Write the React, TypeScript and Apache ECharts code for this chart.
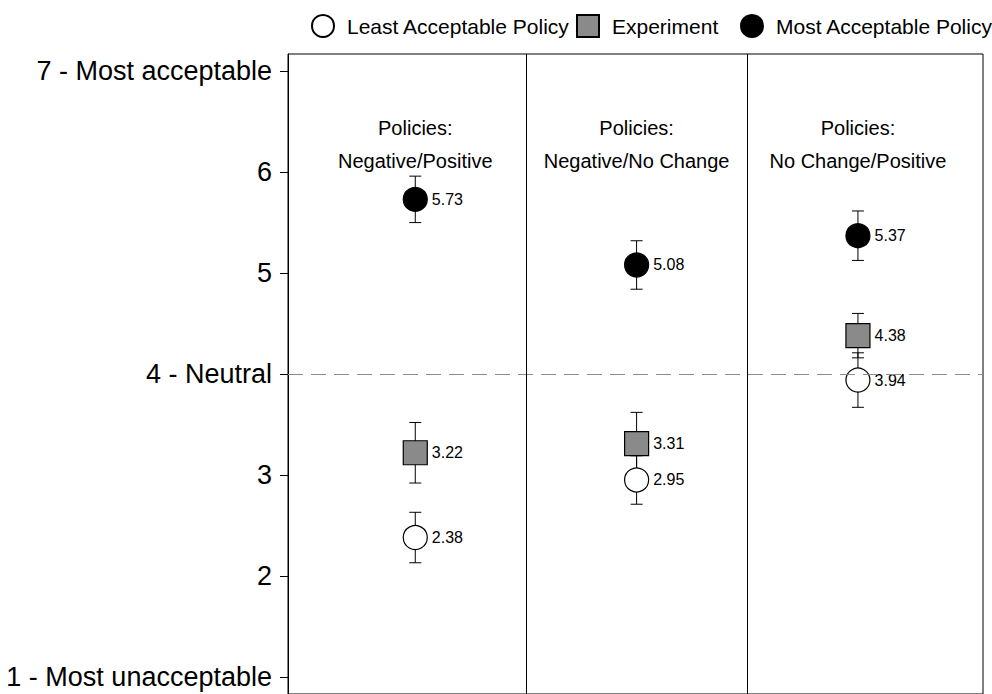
import React, { useEffect, useRef } from "react";
import * as echarts from "echarts";

// ---- data ----
const panelTitles = ["Policies:\nNegative/Positive", "Policies:\nNegative/No Change", "Policies:\nNo Change/Positive"];
const panelX = [1, 2, 3];
const seriesNames = ["Least Acceptable Policy", "Experiment", "Most Acceptable Policy"];
const leastMeans = [2.38, 2.95, 3.94];
const leastErr = [0.25, 0.24, 0.27];
const expMeans = [3.22, 3.31, 4.38];
const expErr = [0.3, 0.31, 0.22];
const mostMeans = [5.73, 5.08, 5.37];
const mostErr = [0.23, 0.24, 0.245];
const yTickValues = [1, 2, 3, 4, 5, 6, 7];
const yTickLabels = ["1 - Most unacceptable", "2", "3", "4 - Neutral", "5", "6", "7 - Most acceptable"];
const neutralValue = 4;
const dividerValues = [1.5, 2.5];
const titleY = 6.27;

const FONT = "Liberation Sans, Arial, sans-serif";
const legendLefts = [306, 571, 735];

export default function App() {
  const ref = useRef<HTMLDivElement>(null);
  useEffect(() => {
    if (!ref.current) return;
    const chart = echarts.init(ref.current, undefined, { renderer: "svg" });

    const errData = (means: number[], errs: number[]) =>
      means.map((m, i) => [panelX[i], m - errs[i], m + errs[i]]);
    const allErr = [
      ...errData(leastMeans, leastErr),
      ...errData(expMeans, expErr),
      ...errData(mostMeans, mostErr),
    ];

    const pointData = (means: number[]) => means.map((m, i) => [panelX[i], m]);
    const valueLabel = {
      show: true,
      position: "right" as const,
      distance: 4,
      fontSize: 16,
      color: "#000",
      opacity: 1,
      fontFamily: FONT,
      formatter: (p: any) => p.value[1].toFixed(2),
    };

    chart.setOption({
      animation: false,
      backgroundColor: "#fff",
      textStyle: { fontFamily: FONT },
      legend: seriesNames.map((n, i) => ({
        data: [n],
        left: legendLefts[i],
        top: 9,
        itemWidth: 22,
        itemHeight: 22,
        selectedMode: false,
        textStyle: { fontSize: 21, color: "#000", fontFamily: FONT, padding: [0, 0, 0, 8] },
      })),
      grid: {
        left: 288,
        right: 9,
        top: 54,
        bottom: -1,
        show: true,
        borderColor: "#000",
        borderWidth: 1,
        backgroundColor: "transparent",
      },
      xAxis: {
        type: "value",
        min: 0.425,
        max: 3.565,
        show: false,
      },
      yAxis: {
        type: "value",
        min: 0.83,
        max: 7.17,
        axisLine: { show: true, lineStyle: { color: "#000", width: 1 } },
        axisTick: { show: true, inside: false, length: 8, lineStyle: { color: "#000" }, customValues: yTickValues },
        axisLabel: {
          show: true,
          fontSize: 27,
          color: "#000",
          fontFamily: FONT,
          margin: 16,
          customValues: yTickValues,
          formatter: (v: number) => {
            const idx = yTickValues.indexOf(Math.round(v));
            return idx >= 0 ? yTickLabels[idx] : "";
          },
        },
        splitLine: { show: false },
      },
      series: [
        {
          type: "custom",
          name: "errors",
          z: 2,
          data: allErr,
          encode: { x: 0, y: [1, 2] },
          renderItem: (params: any, api: any) => {
            const x = api.value(0);
            const lo = api.value(1);
            const hi = api.value(2);
            const top = api.coord([x, hi]);
            const bot = api.coord([x, lo]);
            const hw = 6;
            const st = { stroke: "#000", lineWidth: 1 };
            return {
              type: "group",
              children: [
                { type: "line", shape: { x1: top[0], y1: top[1], x2: bot[0], y2: bot[1] }, style: st },
                { type: "line", shape: { x1: top[0] - hw, y1: top[1], x2: top[0] + hw, y2: top[1] }, style: st },
                { type: "line", shape: { x1: bot[0] - hw, y1: bot[1], x2: bot[0] + hw, y2: bot[1] }, style: st },
              ],
            };
          },
          markLine: {
            silent: true,
            symbol: "none",
            label: { show: false },
            data: [
              { yAxis: neutralValue, lineStyle: { color: "#8c8c8c", type: [15, 8], width: 1 } },
              ...dividerValues.map((v) => ({ xAxis: v, lineStyle: { color: "#000", type: "solid", width: 1 } })),
            ],
          },
        },
        {
          type: "scatter",
          name: seriesNames[0],
          z: 3,
          symbol: "circle",
          symbolSize: 24,
          itemStyle: { color: "#fff", borderColor: "#000", borderWidth: 1.2, opacity: 1 },
          label: valueLabel,
          data: pointData(leastMeans),
        },
        {
          type: "scatter",
          name: seriesNames[1],
          z: 3,
          symbol: "rect",
          symbolSize: 24,
          itemStyle: { color: "#8a8a8a", borderColor: "#000", borderWidth: 1.2, opacity: 1 },
          label: valueLabel,
          data: pointData(expMeans),
        },
        {
          type: "scatter",
          name: seriesNames[2],
          z: 3,
          symbol: "circle",
          symbolSize: 24,
          itemStyle: { color: "#000", borderColor: "#000", borderWidth: 1.2, opacity: 1 },
          label: valueLabel,
          data: pointData(mostMeans),
        },
        {
          type: "scatter",
          name: "titles",
          z: 3,
          symbolSize: 0,
          silent: true,
          itemStyle: { color: "rgba(0,0,0,0)", opacity: 1 },
          label: {
            show: true,
            position: "inside",
            fontSize: 20,
            lineHeight: 33,
            color: "#000",
            opacity: 1,
            fontFamily: FONT,
            align: "center",
            formatter: (p: any) => panelTitles[p.dataIndex],
          },
          data: panelX.map((x) => [x, titleY]),
        },
      ],
    });
    return () => chart.dispose();
  }, []);
  return (
    <div
      ref={ref}
      style={{ position: "fixed", left: 0, top: 0, width: 992, height: 694 }}
    />
  );
}
